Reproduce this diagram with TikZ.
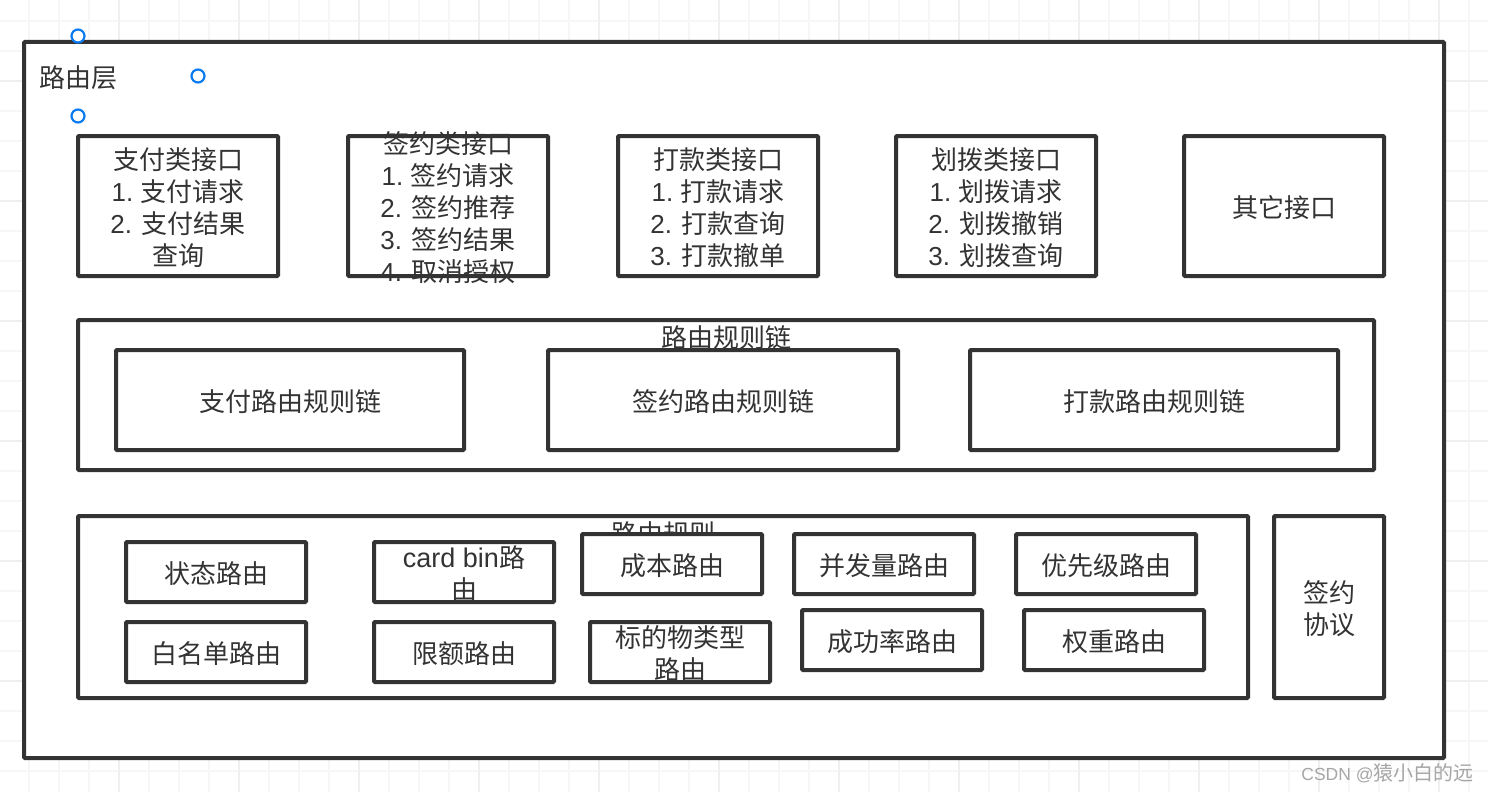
\documentclass[tikz,border=0pt]{standalone}
\usepackage{fontspec}
\setmainfont{Noto Sans CJK SC}
\newfontfamily\latinfont{Liberation Sans}
\newcommand{\lat}[1]{{\latinfont #1}}
\definecolor{inkgray}{HTML}{333333}
\definecolor{gridlight}{HTML}{F6F6F6}
\definecolor{gridstrong}{HTML}{EFEFEF}
\definecolor{handleblue}{HTML}{0A7CF0}
\definecolor{markgray}{HTML}{A6A6A6}
\begin{document}
\begin{tikzpicture}[x=1pt,y=-1pt]
        \tikzset{every node/.style={text=inkgray,font=\fontsize{26}{32}\selectfont,inner sep=0pt,align=center},
            box/.style={draw=inkgray,line width=4pt,fill=white,rounded corners=1pt},
            apibox/.style={box,minimum width=200pt,minimum height=140pt},
            rulebox/.style={box,minimum width=180pt,minimum height=60pt},
            chainbox/.style={box,minimum height=100pt},
            tag/.style={yshift=-2pt},
            handle/.style={circle,draw=handleblue,line width=2.2pt,fill=white,minimum size=13pt},
            gridline/.style={gridlight,line width=1.5pt},
            gridmajor/.style={gridstrong,line width=1.5pt}}
        \useasboundingbox (0,0) rectangle (1488,792);
        \fill[white] (0,0) rectangle (1488,792);
        % paper grid
        \foreach \gx in {29,59,...,1469} {\draw[gridline] (\gx,0) -- (\gx,792);}
        \foreach \gy in {21,51,...,771} {\draw[gridline] (0,\gy) -- (1488,\gy);}
        \foreach \gx in {119,239,...,1439} {\draw[gridmajor] (\gx,0) -- (\gx,792);}
        \foreach \gy in {81,201,...,681} {\draw[gridmajor] (0,\gy) -- (1488,\gy);}
        % outer layer
        \node[box,minimum width=1420pt,minimum height=716pt] (layer) at (734,400) {};
        \node (layertitle) at (78,78) {路由层};
        % interface row
        \node[apibox,label={[tag]center:支付类接口\\\lat{1. \kern-2.5pt}支付请求\\\lat{2. }支付结果\\查询}] (pay) at (178,206) {};
        \node[apibox,label={[tag]center:签约类接口\\\lat{1. \kern-2.5pt}签约请求\\\lat{2. }签约推荐\\\lat{3. }签约结果\\\lat{4. }取消授权}] (sign) at (448,206) {};
        \node[apibox,label={[tag]center:打款类接口\\\lat{1. \kern-2.5pt}打款请求\\\lat{2. }打款查询\\\lat{3. }打款撤单}] (payout) at (718,206) {};
        \node[apibox,label={[tag]center:划拨类接口\\\lat{1. \kern-2.5pt}划拨请求\\\lat{2. }划拨撤销\\\lat{3. }划拨查询}] (transfer) at (996,206) {};
        \node[apibox,label={[tag]center:其它接口}] (other) at (1284,206) {};
        % rule chains
        \node[box,minimum width=1296pt,minimum height=150pt] (chains) at (726,395) {};
        \node (chainstitle) at (726,338) {路由规则链};
        \node[chainbox,minimum width=348pt,label={[tag]center:支付路由规则链}] (paychain) at (290,400) {};
        \node[chainbox,minimum width=350pt,label={[tag]center:签约路由规则链}] (signchain) at (723,400) {};
        \node[chainbox,minimum width=368pt,label={[tag]center:打款路由规则链}] (payoutchain) at (1154,400) {};
        % rules
        \node[box,minimum width=1170pt,minimum height=182pt] (rules) at (663,607) {};
        \node (rulestitle) at (663,534) {路由规则};
        \node[rulebox,label={[tag]center:状态路由}] (state) at (216,572) {};
        \node[rulebox,label={[tag]center:{\fontsize{27}{32}\selectfont\lat{card bin}}路\\由}] (cardbin) at (464,572) {};
        \node[rulebox,label={[tag]center:成本路由}] (cost) at (672,564) {};
        \node[rulebox,label={[tag]center:并发量路由}] (qps) at (884,564) {};
        \node[rulebox,label={[tag]center:优先级路由}] (priority) at (1106,564) {};
        \node[rulebox,label={[tag]center:白名单路由}] (white) at (216,652) {};
        \node[rulebox,label={[tag]center:限额路由}] (limit) at (464,652) {};
        \node[rulebox,label={[tag]center:标的物类型\\路由}] (subject) at (680,652) {};
        \node[rulebox,label={[tag]center:成功率路由}] (success) at (892,640) {};
        \node[rulebox,label={[tag]center:权重路由}] (weight) at (1114,640) {};
        \node[box,minimum width=110pt,minimum height=182pt,label={[tag]center:签约\\协议}] (protocol) at (1329,607) {};
        % selection handles
        \node[handle] (handletop) at (78,36) {};
        \node[handle] (handleright) at (198,76) {};
        \node[handle] (handlebottom) at (78,116) {};
        \node[text=markgray,font=\fontsize{20}{22}\selectfont] (watermark) at (1387.5,773) {{\fontsize{17.5}{22}\selectfont\lat{CSDN @}}猿小白的远};
    \end{tikzpicture}
\end{document}
